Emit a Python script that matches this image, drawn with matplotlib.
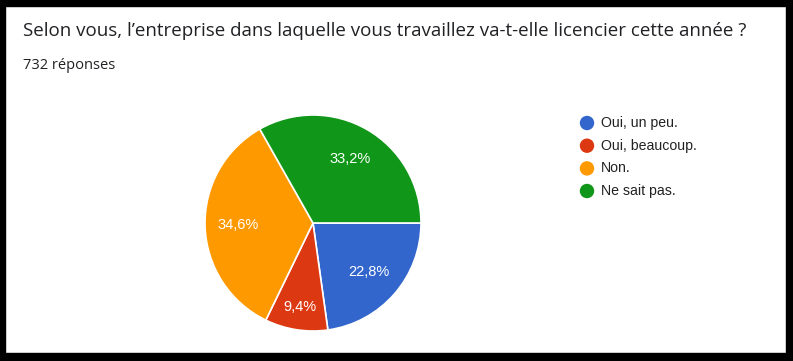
import numpy as np
import matplotlib
matplotlib.use("Agg")
import matplotlib.pyplot as plt
from matplotlib.patches import Rectangle, Circle

title = "Selon vous, l’entreprise dans laquelle vous travaillez va-t-elle licencier cette année ?"
subtitle = "732 réponses"
categories = ["Oui, un peu.", "Oui, beaucoup.", "Non.", "Ne sait pas."]
values = [22.8, 9.4, 34.6, 33.2]
colors = ["#3366cc", "#dc3912", "#ff9900", "#109618"]

W, H = 793, 361
fig = plt.figure(figsize=(W / 100, H / 100), dpi=100)
fig.patch.set_facecolor("white")

def fx(px):
    return px / W

def fy(py):
    return 1 - py / H

# black frame
for (x0, y0, w, h) in [(0, 0, 5, H), (0, 0, W, 6), (W - 7, 0, 7, H), (0, H - 8, W, 8)]:
    fig.add_artist(Rectangle((fx(x0), fy(y0 + h)), w / W, h / H,
                             transform=fig.transFigure, color="black", zorder=10))

fig.text(fx(23), fy(36), title, fontsize=13.5, family="Open Sans", color="#202124",
         va="baseline", ha="left")
fig.text(fx(23), fy(69), subtitle, fontsize=10.5, family="Open Sans", color="#202124",
         va="baseline", ha="left")

# pie
cx, cy, r = 313, 223, 108
ax = fig.add_axes([fx(cx - r), fy(cy + r), 2 * r / W, 2 * r / H])
wedges, _ = ax.pie(values, colors=colors, startangle=0, counterclock=False,
                   wedgeprops=dict(edgecolor="white", linewidth=1.2))
ax.set_xlim(-1, 1)
ax.set_ylim(-1, 1)
ax.set_aspect("equal")
ax.axis("off")

total = sum(values)
for w, v in zip(wedges, values):
    ang = np.deg2rad((w.theta1 + w.theta2) / 2)
    d = 0.79 if v / total < 0.12 else 0.69
    ax.text(d * np.cos(ang), d * np.sin(ang), f"{v:.1f}".replace(".", ",") + "%",
            ha="center", va="center", color="white", fontsize=10.5,
            family="Liberation Sans")

# legend
ys = [123, 145.7, 168.4, 191]
for cat, col, y in zip(categories, colors, ys):
    fig.add_artist(Circle((587, H - y), 6.5, transform=None, color=col))
    fig.text(fx(601), fy(y), cat, fontsize=10.2, family="Liberation Sans",
             color="#222222", va="center", ha="left")

fig.savefig("out.png", dpi=100, facecolor="white")
